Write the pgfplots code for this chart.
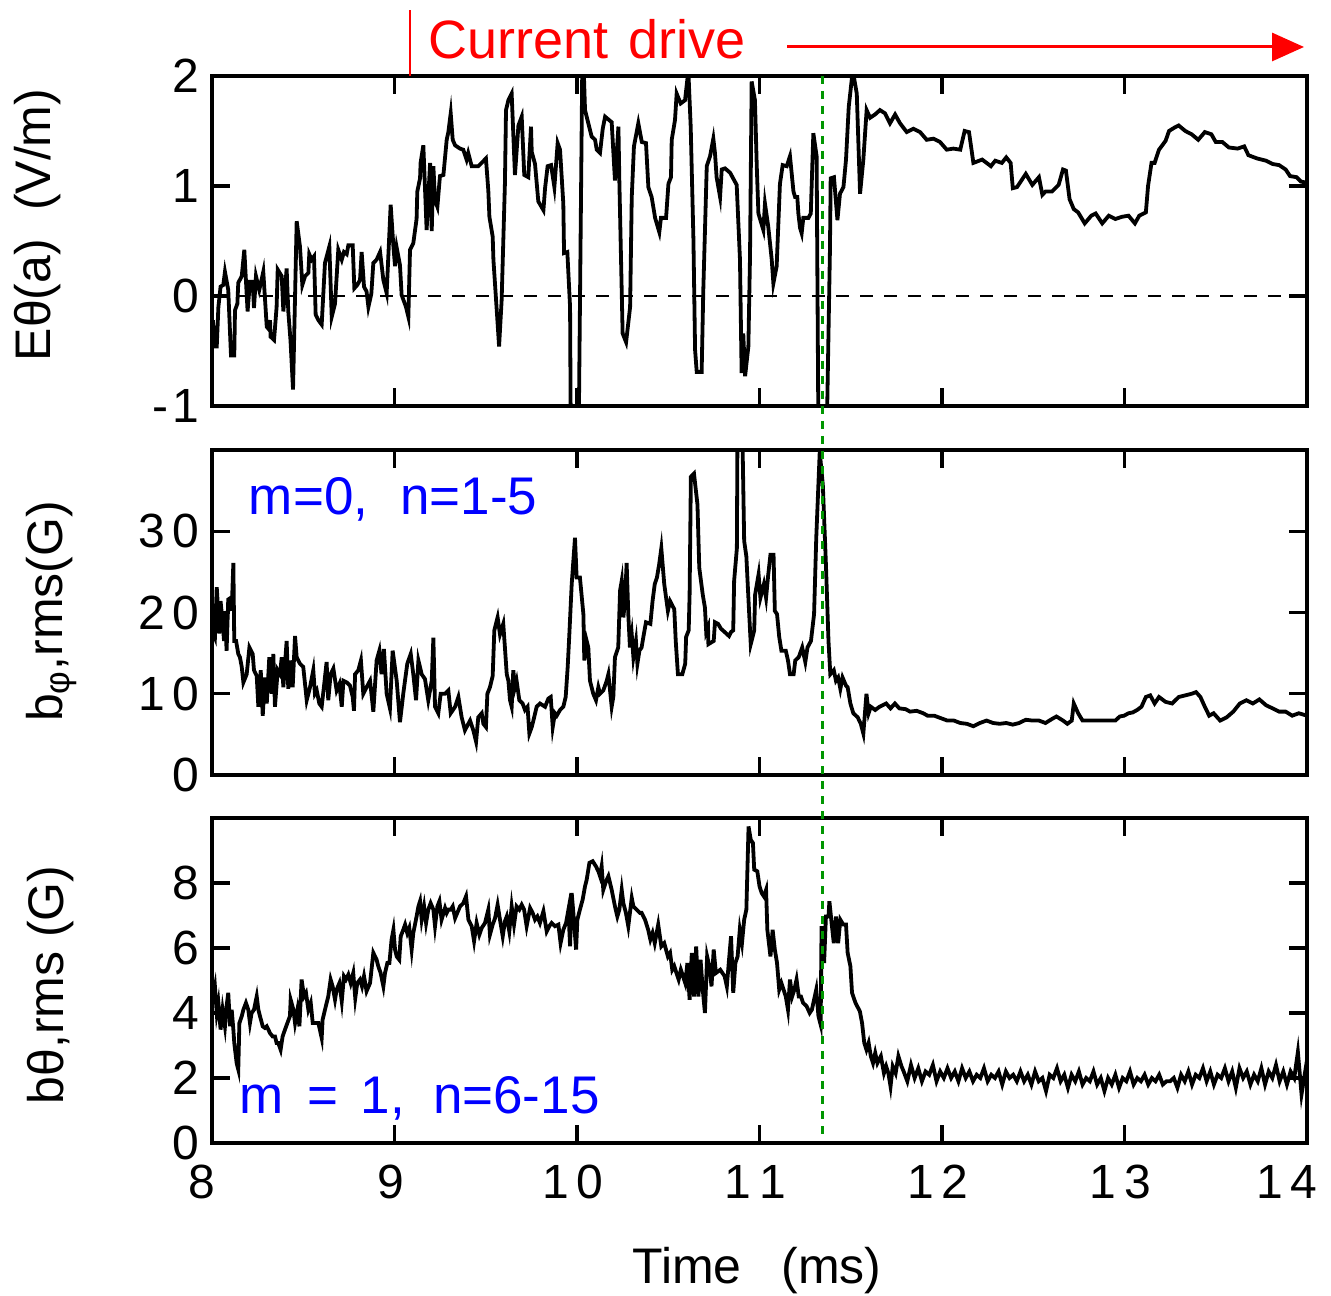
\documentclass[border=0pt]{standalone}
\usepackage{fontspec}
\setmainfont{Liberation Sans}
\usepackage{pgfplots}
\pgfplotsset{compat=1.18}
\usetikzlibrary{arrows.meta}
\definecolor{gdash}{RGB}{0,150,0}
\pgfplotsset{
  panel/.style={scale only axis, width=547.5pt, xmin=8, xmax=14,
    xtick={8,9,10,11,12,13,14},
    tick align=inside, major tick length=9pt,
    axis line style={line width=2pt},
    tick style={line width=1.6pt, black},
    ticklabel style={font=\fontsize{24}{24}\selectfont},
    yticklabel style={inner sep=0pt, xshift=-6pt},
    xticklabel style={inner sep=0pt, yshift=-11pt, xshift=-2pt},
    anchor=south west},
  dataline/.style={black, line width=1.9pt, no markers}
}
\begin{document}
\begin{tikzpicture}[x=1pt,y=1pt]
\useasboundingbox (0,0) rectangle (665.5,647.5);
% ---------------- top panel
\begin{axis}[panel, at={(106pt,444.5pt)}, height=165pt,
  ymin=-1, ymax=2, ytick={-1,0,1,2},
  yticklabels={-\hspace{2pt}1,0,1,2}, xticklabels={,,,,,,}]
\addplot[black, line width=1.3pt, dash pattern=on 6.5pt off 5.5pt] coordinates {(8,0) (14,0)};
\addplot[dataline] coordinates {
(8.005,-0.22)(8.016,-0.46)(8.026,-0.46)(8.035,-0.10)(8.047,0.085)(8.062,0.10)(8.071,0.22)(8.089,0.055)(8.104,-0.54)(8.122,-0.54)(8.126,-0.13)(8.139,-0.07)(8.144,0.12)(8.163,0.18)(8.177,0.42)(8.195,-0.14)(8.208,0.13)(8.223,0.13)(8.230,-0.11)(8.241,0.18)(8.259,0.055)(8.272,0.15)(8.281,0.22)(8.300,-0.28)(8.310,-0.30)(8.318,-0.22)(8.321,-0.37)(8.340,-0.40)(8.354,-0.10)(8.360,0.24)(8.382,0.18)(8.391,-0.14)(8.409,0.25)(8.418,-0.14)(8.430,-0.40)(8.444,-0.85)(8.464,0.68)(8.482,0.45)(8.495,0.10)(8.510,0.18)(8.528,0.21)(8.533,0.38)(8.546,0.33)(8.559,0.36)(8.568,-0.17)(8.583,-0.22)(8.601,-0.26)(8.619,0.30)(8.643,0.45)(8.656,-0.19)(8.674,-0.07)(8.692,0.42)(8.711,0.33)(8.723,0.40)(8.738,0.38)(8.747,0.46)(8.771,0.46)(8.780,0.07)(8.796,0.10)(8.811,0.145)(8.820,0.40)(8.833,0.085)(8.847,0.04)(8.857,-0.10)(8.873,0.02)(8.884,0.30)(8.902,0.33)(8.921,0.40)(8.939,0.145)(8.957,0.025)(8.979,0.83)(8.994,0.45)(9.003,0.27)(9.012,0.44)(9.030,0.28)(9.039,0.01)(9.063,-0.10)(9.076,-0.19)(9.085,0.42)(9.103,0.48)(9.121,0.70)(9.125,0.95)(9.140,1.07)(9.143,1.21)(9.158,1.37)(9.176,0.60)(9.195,1.21)(9.204,0.59)(9.213,1.18)(9.222,0.87)(9.235,0.81)(9.249,1.09)(9.268,1.10)(9.286,1.42)(9.295,1.49)(9.308,1.66)(9.319,1.42)(9.332,1.37)(9.359,1.34)(9.377,1.33)(9.395,1.24)(9.404,1.30)(9.423,1.18)(9.459,1.18)(9.501,1.25)(9.514,0.96)(9.520,0.72)(9.538,0.54)(9.542,0.33)(9.565,-0.25)(9.573,-0.46)(9.587,-0.04)(9.605,1.02)(9.611,1.69)(9.624,1.78)(9.642,1.84)(9.660,1.10)(9.679,1.55)(9.697,1.63)(9.711,1.10)(9.733,1.08)(9.748,1.54)(9.752,1.31)(9.770,1.20)(9.788,0.86)(9.816,0.78)(9.825,0.98)(9.839,1.18)(9.858,1.19)(9.876,0.99)(9.894,1.39)(9.907,1.33)(9.925,0.84)(9.929,0.39)(9.947,0.40)(9.962,-0.10)(9.966,-1.3)(10.009,-1.3)(10.029,2.1)(10.036,2.1)(10.044,1.69)(10.071,1.51)(10.080,1.45)(10.099,1.42)(10.108,1.33)(10.126,1.30)(10.141,1.52)(10.154,1.63)(10.190,1.58)(10.208,1.05)(10.227,1.54)(10.232,1.05)(10.250,-0.34)(10.269,-0.42)(10.291,-0.10)(10.300,0.90)(10.312,1.36)(10.336,1.57)(10.355,1.40)(10.378,1.39)(10.391,0.99)(10.409,0.90)(10.428,0.71)(10.451,0.58)(10.460,0.71)(10.488,0.71)(10.501,1.02)(10.515,1.08)(10.519,1.42)(10.537,1.60)(10.546,1.84)(10.568,1.75)(10.592,1.78)(10.610,2.05)(10.623,1.54)(10.638,0.51)(10.647,-0.49)(10.656,-0.69)(10.683,-0.69)(10.692,0.05)(10.711,1.18)(10.729,1.27)(10.747,1.43)(10.756,1.30)(10.765,1.08)(10.784,0.90)(10.793,1.15)(10.811,1.16)(10.839,1.12)(10.875,1.01)(10.893,0.33)(10.902,-0.70)(10.911,-0.34)(10.921,-0.73)(10.939,-0.46)(10.948,0.36)(10.957,1.95)(10.975,1.78)(10.985,1.18)(10.994,0.75)(11.021,0.60)(11.030,0.84)(11.048,0.63)(11.067,0.33)(11.076,0.115)(11.094,0.27)(11.112,1.02)(11.127,1.19)(11.149,1.18)(11.167,1.27)(11.176,1.12)(11.186,0.95)(11.195,0.90)(11.207,0.90)(11.213,0.75)(11.222,0.62)(11.231,0.57)(11.240,0.71)(11.268,0.71)(11.281,0.75)(11.295,1.48)(11.313,1.27)(11.323,-1.3)(11.368,-1.3)(11.386,0.42)(11.390,1.07)(11.408,1.08)(11.427,0.69)(11.441,0.93)(11.460,0.99)(11.474,1.24)(11.489,1.72)(11.511,2.05)(11.533,1.84)(11.551,0.93)(11.569,1.24)(11.587,1.69)(11.606,1.62)(11.633,1.65)(11.660,1.69)(11.688,1.66)(11.715,1.57)(11.743,1.65)(11.770,1.57)(11.807,1.49)(11.843,1.52)(11.880,1.49)(11.916,1.42)(11.953,1.43)(11.989,1.40)(12.026,1.33)(12.062,1.34)(12.100,1.33)(12.124,1.50)(12.148,1.49)(12.172,1.21)(12.220,1.24)(12.244,1.21)(12.268,1.18)(12.292,1.23)(12.328,1.21)(12.352,1.26)(12.376,1.21)(12.388,0.98)(12.411,0.99)(12.459,1.11)(12.495,1.01)(12.531,1.08)(12.550,0.92)(12.567,0.95)(12.603,0.95)(12.639,1.01)(12.663,1.15)(12.679,1.14)(12.699,0.88)(12.722,0.79)(12.746,0.76)(12.782,0.66)(12.818,0.73)(12.842,0.75)(12.878,0.66)(12.914,0.73)(12.950,0.70)(12.986,0.72)(13.022,0.73)(13.057,0.66)(13.081,0.73)(13.117,0.76)(13.129,1.0)(13.148,1.21)(13.165,1.21)(13.189,1.33)(13.225,1.41)(13.244,1.50)(13.273,1.53)(13.297,1.55)(13.333,1.50)(13.368,1.47)(13.404,1.42)(13.440,1.49)(13.476,1.47)(13.500,1.40)(13.536,1.40)(13.572,1.35)(13.620,1.34)(13.656,1.36)(13.679,1.28)(13.727,1.25)(13.775,1.23)(13.811,1.20)(13.847,1.19)(13.883,1.15)(13.907,1.09)(13.943,1.08)(13.967,1.04)(14.0,1.03)};
\coordinate (gtop) at (axis cs:11.345,2);
\end{axis}
% ---------------- middle panel
\begin{axis}[panel, at={(106pt,260pt)}, height=162.5pt,
  ymin=0, ymax=40, ytick={0,10,20,30},
  yticklabels={0,1\hspace{4pt}0,2\hspace{4pt}0,3\hspace{4pt}0}, xticklabels={,,,,,,}]
\addplot[dataline] coordinates {
(8.005,17.5)(8.016,16.9)(8.026,23.1)(8.035,19.8)(8.040,17.4)(8.047,21.4)(8.058,18.8)(8.066,16.5)(8.071,19.8)(8.080,15.3)(8.089,21.6)(8.102,21.8)(8.108,20.2)(8.117,26.1)(8.122,16.5)(8.132,16.5)(8.144,14.9)(8.153,14.5)(8.163,13.3)(8.172,11.4)(8.190,12.4)(8.205,15.7)(8.223,14.9)(8.230,12.9)(8.245,12.2)(8.254,8.4)(8.267,12.9)(8.278,7.3)(8.290,12.0)(8.300,8.8)(8.314,14.5)(8.327,10.0)(8.336,14.9)(8.345,8.4)(8.360,12.9)(8.373,12.4)(8.382,14.5)(8.391,10.8)(8.409,16.5)(8.418,10.6)(8.427,14.1)(8.442,10.8)(8.455,17.1)(8.464,14.5)(8.482,13.7)(8.500,13.3)(8.519,9.2)(8.537,10.8)(8.555,12.9)(8.564,10.0)(8.574,10.4)(8.588,8.8)(8.601,8.4)(8.614,11.0)(8.628,13.9)(8.637,9.2)(8.650,12.4)(8.665,13.1)(8.683,10.4)(8.698,11.2)(8.711,8.4)(8.720,11.6)(8.738,11.4)(8.756,11.0)(8.771,9.6)(8.778,7.9)(8.784,12.4)(8.802,12.9)(8.816,14.1)(8.829,10.0)(8.847,10.8)(8.866,11.6)(8.884,7.8)(8.902,14.1)(8.917,15.3)(8.929,12.4)(8.942,15.5)(8.957,10.0)(8.975,8.2)(8.990,15.3)(9.012,11.6)(9.030,6.5)(9.048,10.0)(9.070,13.7)(9.089,14.9)(9.103,12.4)(9.118,9.2)(9.131,14.1)(9.149,12.4)(9.167,11.8)(9.185,9.2)(9.204,11.6)(9.213,16.9)(9.222,8.4)(9.240,7.6)(9.253,10.0)(9.277,10.0)(9.295,10.4)(9.308,7.6)(9.332,8.4)(9.350,9.6)(9.368,7.1)(9.386,5.5)(9.395,5.9)(9.414,6.7)(9.432,5.5)(9.447,4.1)(9.459,7.1)(9.478,7.6)(9.487,6.3)(9.501,5.9)(9.509,10.0)(9.523,10.8)(9.538,12.2)(9.547,17.8)(9.565,19.4)(9.578,17.3)(9.596,18.6)(9.605,15.7)(9.615,12.4)(9.624,11.6)(9.633,9.2)(9.642,8.4)(9.651,12.9)(9.660,10.8)(9.669,11.6)(9.684,9.2)(9.702,8.8)(9.715,8.0)(9.729,8.4)(9.739,5.1)(9.752,5.9)(9.761,6.7)(9.779,8.4)(9.797,8.8)(9.825,8.4)(9.843,9.4)(9.856,9.6)(9.867,5.9)(9.879,7.6)(9.889,7.3)(9.907,8.0)(9.925,8.4)(9.938,9.6)(9.949,13.3)(9.958,17.3)(9.971,23.5)(9.989,29.2)(9.998,24.3)(10.016,24.3)(10.035,19.8)(10.040,14.1)(10.053,16.5)(10.062,15.7)(10.071,11.6)(10.089,10.0)(10.104,9.2)(10.117,10.8)(10.126,10.0)(10.144,10.4)(10.163,11.6)(10.172,12.4)(10.190,8.4)(10.199,9.6)(10.208,14.5)(10.226,15.7)(10.236,22.7)(10.245,23.9)(10.254,19.4)(10.263,21.4)(10.272,26.1)(10.281,19.8)(10.290,15.7)(10.300,17.3)(10.309,14.5)(10.323,16.5)(10.331,13.7)(10.342,15.3)(10.354,15.7)(10.366,17.3)(10.378,18.8)(10.402,18.6)(10.414,21.4)(10.426,23.5)(10.438,24.3)(10.450,25.9)(10.462,27.9)(10.478,23.5)(10.498,20.2)(10.510,21.4)(10.533,20.4)(10.541,16.5)(10.553,12.4)(10.577,12.4)(10.593,13.7)(10.598,17.0)(10.612,17.8)(10.617,22.2)(10.624,36.7)(10.641,37.1)(10.660,33.3)(10.670,25.5)(10.689,22.2)(10.701,20.6)(10.708,17.6)(10.718,18.2)(10.720,16.1)(10.749,16.5)(10.756,18.8)(10.773,18.6)(10.789,18.0)(10.809,17.6)(10.833,17.1)(10.844,17.6)(10.856,17.8)(10.861,23.9)(10.876,27.9)(10.880,45)(10.904,45)(10.916,28.8)(10.928,26.9)(10.940,21.4)(10.952,16.1)(10.971,17.8)(10.976,22.2)(10.995,24.7)(11.005,21.8)(11.024,23.5)(11.036,21.8)(11.048,24.7)(11.060,27.1)(11.077,27.1)(11.084,20.2)(11.096,19.8)(11.108,17.0)(11.120,15.3)(11.144,15.3)(11.156,14.1)(11.167,12.4)(11.187,12.4)(11.196,14.1)(11.215,14.5)(11.234,15.7)(11.251,13.9)(11.263,15.7)(11.282,16.5)(11.299,19.8)(11.311,29.2)(11.330,39.8)(11.347,35.7)(11.364,25.9)(11.378,16.5)(11.388,12.4)(11.407,12.9)(11.419,11.6)(11.431,12.0)(11.443,10.6)(11.455,12.0)(11.474,11.0)(11.483,10.8)(11.498,8.8)(11.514,7.6)(11.538,7.1)(11.555,6.3)(11.569,5.1)(11.586,10.0)(11.598,7.6)(11.610,8.4)(11.634,8.0)(11.658,8.4)(11.694,8.8)(11.718,8.2)(11.742,8.8)(11.766,8.2)(11.801,8.1)(11.825,7.8)(11.861,7.9)(11.897,7.6)(11.921,7.3)(11.957,7.3)(11.993,7.0)(12.029,6.7)(12.065,6.7)(12.100,6.4)(12.136,6.3)(12.172,6.0)(12.208,6.4)(12.244,6.7)(12.280,6.4)(12.316,6.3)(12.352,6.4)(12.388,6.2)(12.423,6.4)(12.459,6.8)(12.495,6.7)(12.531,6.7)(12.567,6.4)(12.603,6.9)(12.627,7.2)(12.663,6.7)(12.687,6.3)(12.711,6.7)(12.722,8.8)(12.746,7.6)(12.770,6.7)(12.806,6.7)(12.842,6.7)(12.878,6.7)(12.914,6.7)(12.950,6.7)(12.974,7.2)(12.998,7.3)(13.022,7.6)(13.045,7.7)(13.069,8.0)(13.093,8.4)(13.117,9.6)(13.141,9.8)(13.165,8.8)(13.189,9.6)(13.225,9.0)(13.261,8.8)(13.297,9.6)(13.333,9.8)(13.368,10.0)(13.392,10.2)(13.416,9.6)(13.440,8.4)(13.464,7.3)(13.488,7.6)(13.524,6.7)(13.560,7.1)(13.596,7.8)(13.632,8.8)(13.668,9.2)(13.703,8.8)(13.739,9.3)(13.775,8.6)(13.811,8.2)(13.847,7.8)(13.883,7.8)(13.919,7.3)(13.955,7.6)(14.0,7.3)};
\node[anchor=base west, inner sep=0pt, text=blue, font=\fontsize{26.5}{26.5}\selectfont] at (axis cs:8.20,32.1) {m=0,\hspace{16pt}n=1-5};
\end{axis}
% ---------------- bottom panel
\begin{axis}[panel, at={(106pt,76pt)}, height=162.5pt,
  ymin=0, ymax=10, ytick={0,2,4,6,8},
  yticklabels={0,2,4,6,8},
  xticklabels={\hspace{-6pt}8,9,1\hspace{4pt}0,1\hspace{4pt}1,1\hspace{4pt}2,1\hspace{4pt}3,1\hspace{4pt}4\hspace{16pt}\mbox{}}]
\addplot[dataline] coordinates {
(8.005,4.5)(8.016,4.82)(8.026,4.0)(8.035,4.31)(8.047,3.49)(8.058,4.10)(8.071,3.59)(8.080,4.21)(8.089,4.62)(8.099,3.59)(8.108,4.10)(8.117,3.49)(8.122,3.08)(8.135,2.46)(8.144,2.26)(8.150,3.69)(8.163,3.90)(8.172,4.10)(8.186,4.31)(8.199,4.10)(8.208,3.69)(8.217,4.0)(8.230,4.10)(8.245,4.51)(8.254,4.10)(8.263,3.90)(8.278,3.59)(8.290,3.54)(8.300,3.59)(8.318,3.38)(8.332,3.28)(8.345,3.28)(8.354,3.08)(8.363,3.08)(8.376,2.87)(8.387,3.28)(8.400,3.49)(8.413,3.69)(8.427,3.90)(8.431,4.41)(8.446,4.10)(8.455,3.69)(8.468,4.10)(8.479,3.59)(8.491,5.03)(8.504,4.51)(8.515,4.62)(8.528,4.10)(8.541,4.31)(8.552,3.69)(8.564,3.69)(8.583,3.69)(8.601,3.23)(8.606,3.79)(8.619,4.10)(8.637,4.51)(8.650,5.03)(8.661,4.82)(8.674,4.41)(8.683,4.72)(8.698,4.92)(8.711,4.36)(8.723,5.13)(8.734,5.03)(8.747,5.18)(8.760,4.92)(8.774,5.23)(8.785,4.46)(8.796,4.92)(8.811,5.03)(8.822,4.82)(8.833,5.13)(8.847,4.67)(8.866,4.92)(8.884,5.85)(8.902,5.64)(8.911,5.44)(8.924,5.23)(8.939,4.82)(8.948,5.23)(8.961,5.54)(8.972,5.54)(8.984,6.26)(8.994,6.56)(9.003,5.95)(9.012,5.74)(9.026,5.64)(9.034,6.36)(9.048,6.56)(9.058,6.72)(9.070,6.46)(9.081,6.62)(9.094,5.95)(9.103,6.46)(9.121,6.97)(9.131,7.28)(9.140,7.44)(9.149,6.87)(9.162,7.28)(9.173,6.77)(9.185,7.18)(9.198,7.38)(9.213,7.18)(9.222,6.67)(9.235,7.28)(9.246,7.44)(9.258,6.87)(9.277,7.23)(9.286,7.08)(9.295,7.18)(9.308,7.18)(9.319,7.28)(9.332,6.92)(9.344,7.08)(9.359,7.28)(9.377,7.38)(9.392,7.59)(9.405,6.87)(9.423,6.67)(9.436,6.21)(9.450,6.77)(9.465,6.41)(9.478,6.62)(9.496,6.77)(9.514,7.18)(9.523,6.41)(9.538,6.72)(9.551,6.92)(9.565,7.33)(9.578,6.87)(9.593,6.36)(9.605,6.82)(9.615,6.97)(9.629,6.51)(9.642,7.28)(9.655,6.72)(9.669,7.28)(9.684,7.18)(9.697,7.33)(9.710,7.18)(9.724,6.67)(9.743,7.23)(9.757,7.08)(9.770,6.87)(9.783,6.97)(9.797,6.77)(9.816,7.13)(9.834,6.51)(9.848,6.67)(9.861,6.77)(9.879,6.67)(9.898,6.72)(9.910,6.15)(9.925,6.56)(9.940,6.77)(9.953,7.18)(9.962,6.05)(9.971,7.69)(9.980,7.08)(9.995,5.95)(10.002,6.87)(10.016,7.18)(10.031,7.49)(10.044,7.90)(10.053,8.10)(10.068,8.62)(10.086,8.67)(10.104,8.51)(10.117,8.36)(10.126,8.21)(10.135,8.51)(10.144,7.79)(10.159,8.05)(10.172,8.21)(10.190,7.79)(10.208,7.28)(10.221,6.97)(10.232,7.18)(10.245,7.79)(10.254,7.38)(10.268,7.08)(10.281,6.67)(10.300,7.54)(10.309,7.28)(10.327,7.18)(10.345,7.08)(10.354,7.08)(10.373,6.87)(10.390,6.56)(10.402,6.26)(10.414,6.46)(10.426,6.15)(10.445,6.72)(10.462,6.05)(10.478,6.15)(10.498,5.74)(10.510,5.85)(10.522,5.33)(10.533,5.44)(10.545,5.23)(10.557,5.03)(10.569,5.33)(10.581,5.13)(10.593,4.92)(10.605,5.54)(10.617,4.41)(10.629,5.85)(10.641,4.51)(10.653,6.05)(10.665,4.51)(10.677,5.64)(10.689,4.72)(10.701,4.0)(10.713,5.74)(10.725,5.44)(10.737,4.82)(10.749,5.95)(10.761,5.23)(10.785,5.33)(10.809,5.13)(10.821,4.82)(10.833,5.64)(10.844,6.36)(10.856,4.62)(10.868,5.54)(10.880,5.74)(10.892,6.56)(10.904,6.15)(10.916,6.87)(10.928,7.18)(10.940,9.74)(10.952,9.33)(10.964,9.23)(10.971,8.41)(10.988,8.36)(11.000,7.90)(11.012,7.69)(11.024,7.59)(11.036,7.79)(11.043,6.56)(11.060,5.74)(11.072,6.56)(11.084,5.95)(11.096,5.54)(11.108,4.72)(11.120,4.92)(11.144,4.51)(11.156,4.10)(11.167,5.03)(11.179,4.51)(11.191,4.72)(11.203,5.03)(11.215,4.51)(11.227,4.51)(11.239,4.31)(11.258,4.21)(11.275,4.0)(11.287,4.10)(11.311,4.72)(11.323,3.90)(11.335,3.64)(11.340,6.67)(11.354,5.54)(11.364,6.97)(11.378,6.97)(11.383,7.44)(11.395,6.77)(11.407,6.15)(11.419,6.97)(11.431,6.15)(11.443,6.87)(11.459,6.72)(11.474,6.72)(11.483,5.85)(11.498,5.44)(11.507,4.62)(11.526,4.31)(11.550,4.05)(11.562,3.69)(11.574,3.08)(11.586,2.87)(11.598,3.08)(11.610,2.67)(11.622,2.46)(11.634,2.77)(11.646,2.46)(11.665,2.67)(11.682,2.15)(11.694,2.36)(11.706,2.15)(11.718,1.74)(11.730,2.36)(11.746,2.15)(11.761,2.67)(11.778,2.36)(11.79,2.2)(11.81,1.9)(11.83,2.4)(11.85,2.0)(11.87,2.3)(11.89,1.9)(11.91,2.2)(11.93,2.1)(11.95,2.4)(11.97,1.9)(11.99,2.2)(12.01,2.0)(12.03,2.3)(12.05,2.0)(12.07,2.2)(12.09,1.9)(12.11,2.3)(12.13,2.0)(12.15,2.2)(12.17,1.9)(12.19,2.1)(12.21,2.0)(12.23,2.3)(12.25,1.9)(12.27,2.1)(12.29,2.0)(12.31,2.2)(12.33,1.8)(12.35,2.2)(12.37,2.0)(12.39,2.1)(12.41,1.9)(12.43,2.2)(12.45,1.9)(12.47,2.1)(12.49,1.8)(12.51,2.2)(12.53,1.9)(12.55,2.0)(12.57,1.6)(12.59,2.1)(12.61,2.0)(12.63,2.3)(12.65,1.9)(12.67,2.1)(12.69,1.7)(12.71,2.1)(12.73,1.9)(12.75,2.2)(12.77,1.8)(12.79,2.0)(12.81,1.9)(12.83,2.2)(12.85,1.8)(12.87,2.0)(12.89,1.6)(12.91,2.0)(12.93,1.8)(12.95,2.1)(12.97,1.7)(12.99,2.0)(13.01,1.9)(13.03,2.2)(13.05,1.8)(13.07,2.0)(13.09,1.9)(13.11,2.1)(13.13,1.8)(13.15,2.0)(13.17,1.9)(13.19,2.1)(13.21,1.8)(13.23,1.9)(13.25,1.9)(13.27,2.0)(13.29,1.7)(13.31,2.1)(13.33,1.9)(13.35,2.2)(13.37,1.8)(13.39,2.1)(13.41,2.0)(13.43,2.3)(13.45,1.9)(13.47,2.2)(13.49,1.8)(13.51,2.1)(13.53,2.0)(13.55,2.3)(13.57,1.9)(13.59,2.2)(13.61,1.7)(13.63,2.3)(13.65,2.0)(13.67,2.2)(13.69,1.8)(13.71,2.1)(13.73,1.9)(13.75,2.3)(13.77,1.8)(13.79,2.2)(13.81,2.0)(13.83,2.4)(13.85,1.9)(13.87,2.2)(13.89,1.8)(13.91,2.2)(13.93,2.0)(13.95,2.8)(13.97,1.5)(13.99,2.2)(14.0,1.9)};
\node[anchor=base west, inner sep=0pt, text=blue, font=\fontsize{26.5}{26.5}\selectfont] at (axis cs:8.15,0.92) {m\hspace{12pt}=\hspace{11pt}1,\hspace{14pt}n=6-15};
\coordinate (gbot) at (axis cs:11.345,0.25);
\end{axis}
% ---------------- annotations
\draw[gdash, line width=1.1pt, dash pattern=on 4pt off 3.5pt] (gtop) -- (gbot);
\draw[red, line width=1pt] (205,609.5) -- (205,642.5);
\node[anchor=base west, inner sep=0pt, text=red, font=\fontsize{27}{27}\selectfont] at (214,618) {Current\hspace{10pt}drive};
\draw[red, line width=1.5pt, -{Triangle[length=16pt,width=14pt]}] (393.5,624) -- (652,624);
% axis labels
\node[rotate=90, anchor=base, inner sep=0pt, font=\fontsize{25}{25}\selectfont] at (25,535) {Eθ(a)\hspace{14pt}(V/m)};
\node[rotate=90, anchor=base, inner sep=0pt, font=\fontsize{25}{25}\selectfont] at (31,341.75) {b\textsubscript{φ},rms(G)};
\node[rotate=90, anchor=base, inner sep=0pt, font=\fontsize{25}{25}\selectfont] at (31.5,155) {bθ,rms (G)};
\node[anchor=base, inner sep=0pt, font=\fontsize{25}{25}\selectfont] at (378.5,6) {Time\hspace{20pt}(ms)};
\end{tikzpicture}
\end{document}
